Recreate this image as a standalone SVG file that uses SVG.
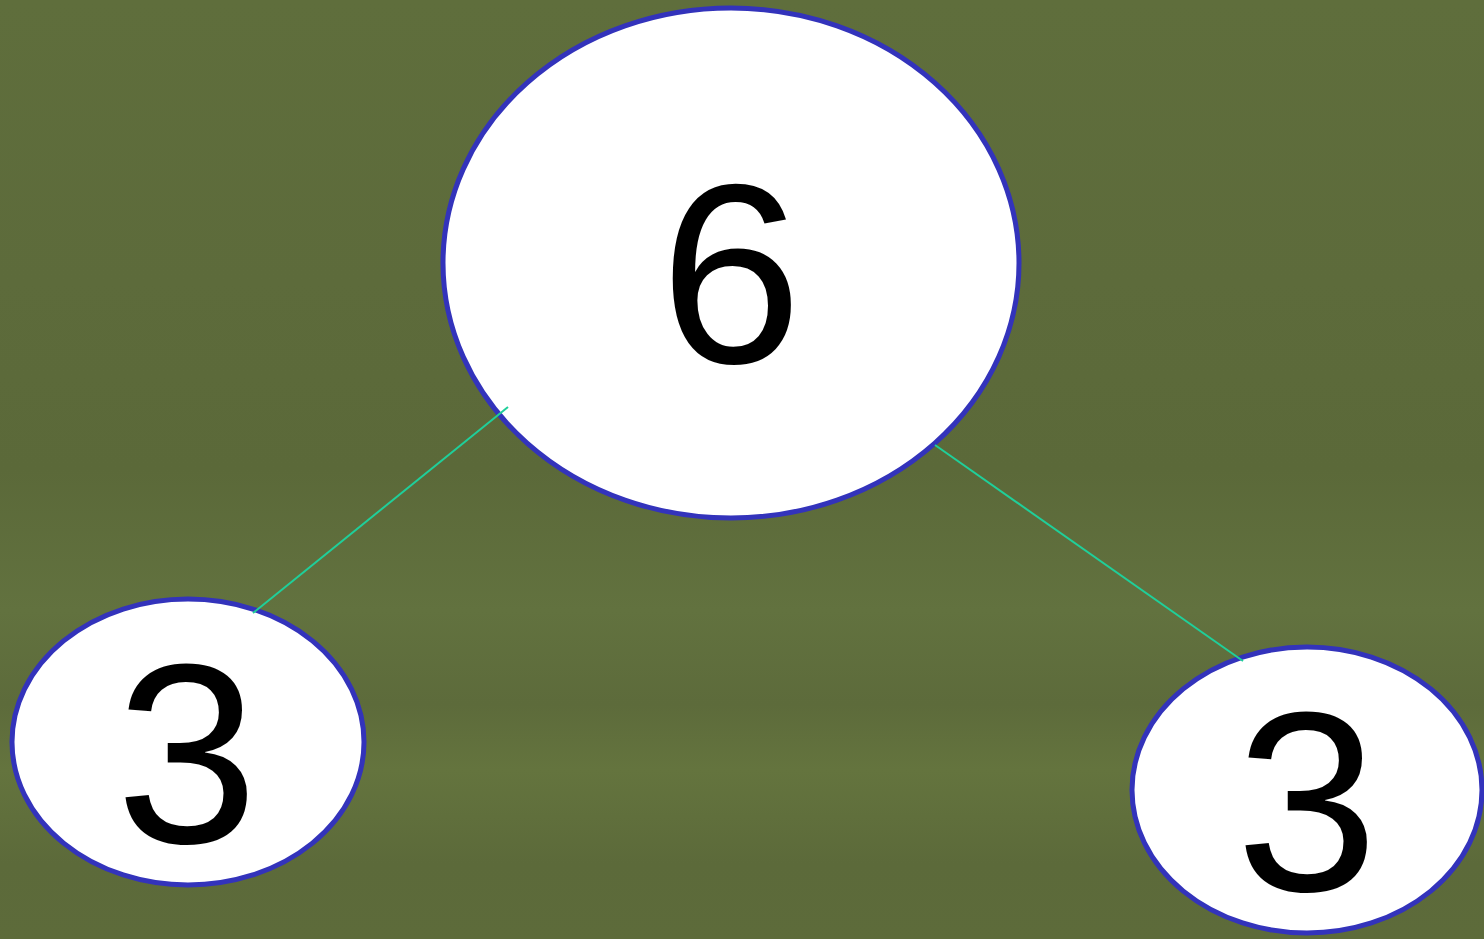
<svg xmlns="http://www.w3.org/2000/svg" width="1484" height="939" viewBox="0 0 1484 939">
  <defs>
    <linearGradient id="bg" x1="0" y1="0" x2="0" y2="1">
      <stop offset="0" stop-color="#5f6e3c"/>
      <stop offset="0.3" stop-color="#5d6b3b"/>
      <stop offset="0.5" stop-color="#5b6939"/>
      <stop offset="0.65" stop-color="#62723f"/>
      <stop offset="0.75" stop-color="#5d6b3b"/>
      <stop offset="0.82" stop-color="#64743e"/>
      <stop offset="0.92" stop-color="#5c6a3a"/>
      <stop offset="1" stop-color="#5d6b3a"/>
    </linearGradient>
    <style>
      .node { fill: #ffffff; stroke: #3333bb; stroke-width: 5; }
      .label { font-family: "Liberation Sans", Arial, sans-serif; font-size: 256px; fill: #000000; text-anchor: middle; }
      .edge { stroke: #1fcf9a; stroke-width: 2; fill: none; }
    </style>
  </defs>
  <rect x="0" y="0" width="1484" height="939" fill="url(#bg)"/>
  <g id="node-root">
    <ellipse class="node" cx="731" cy="263" rx="288" ry="255"/>
    <text class="label" x="731" y="363">6</text>
  </g>
  <g id="node-left">
    <ellipse class="node" cx="188" cy="742" rx="176" ry="143"/>
    <text class="label" x="187" y="843">3</text>
  </g>
  <g id="node-right">
    <ellipse class="node" cx="1307" cy="790" rx="175" ry="143"/>
    <text class="label" x="1307" y="891">3</text>
  </g>
  <g id="connectors">
    <line class="edge" x1="508" y1="407" x2="253" y2="613"/>
    <line class="edge" x1="935" y1="445" x2="1243" y2="661"/>
  </g>
</svg>
